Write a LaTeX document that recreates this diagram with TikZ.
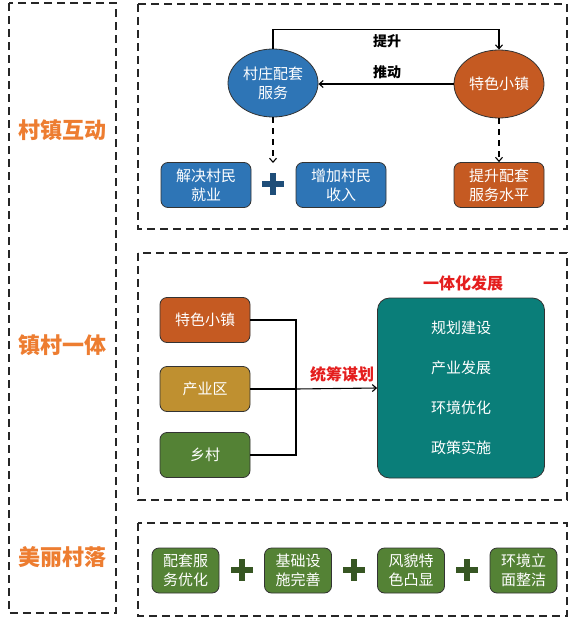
\documentclass[tikz,border=0pt]{standalone}
\usepackage{fontspec}
\setmainfont{Noto Sans CJK SC}
\usetikzlibrary{arrows.meta,shapes.geometric}

\definecolor{blueF}{HTML}{2E75B6}
\definecolor{orangeF}{HTML}{C55A22}
\definecolor{goldF}{HTML}{BF9030}
\definecolor{greenF}{HTML}{548235}
\definecolor{tealF}{HTML}{0A7E79}
\definecolor{plusB}{HTML}{1F4E79}
\definecolor{plusG}{HTML}{375623}
\definecolor{redT}{HTML}{E41E1E}
\definecolor{orangeT}{HTML}{ED7D31}

\begin{document}
\begin{tikzpicture}[x=1pt, y=-1pt,
        frame/.style={draw=black!85, line width=1.4pt, dash pattern=on 8pt off 5pt},
        sidelabel/.style={font=\fontsize{22}{24}\selectfont\bfseries, text=orangeT},
        oval/.style={ellipse, draw=black!80, line width=0.8pt, minimum width=90pt, minimum height=68pt,
            inner sep=0pt, text=white, align=center, font=\fontsize{15}{19}\selectfont},
        box/.style={draw=black!80, line width=0.8pt, rounded corners=7pt, minimum width=90pt, minimum height=45pt,
            inner sep=0pt, text=white, align=center, font=\fontsize{15}{19}\selectfont},
        smallbox/.style={box, minimum width=67pt},
        note/.style={font=\fontsize{14}{16}\selectfont\bfseries},
        rednote/.style={font=\fontsize{16}{18}\selectfont\bfseries, text=redT},
        arr/.style={-{Straight Barb[length=4pt,width=7pt]}, line width=1.1pt}]
    \useasboundingbox (0,0) rectangle (582,624);

    % Frames
    \draw[frame] (9,3) rectangle (116,613);
    \draw[frame] (138,4) rectangle (567,229);
    \draw[frame] (138,253) rectangle (567,500);
    \draw[frame] (138,523) rectangle (567,616);

    % Side labels
    \node[sidelabel] (lab1) at (62,130) {村镇互动};
    \node[sidelabel] (lab2) at (62,345) {镇村一体};
    \node[sidelabel] (lab3) at (62,557) {美丽村落};

    % Village and town
    \node[oval, fill=blueF] (vil) at (273,83) {村庄配套\\服务};
    \node[oval, fill=orangeF] (town) at (499,84) {特色小镇};

    \node[box, fill=blueF] (jobs) at (206,185) {解决村民\\就业};
    \node[box, fill=blueF] (income) at (341,185) {增加村民\\收入};
    \node[box, fill=orangeF] (upgrade) at (499,185) {提升配套\\服务水平};
    \coordinate (vilend) at (273,163);

    \draw[arr] (vil.north) -- ++(0,-19) -| (town.north);
    \draw[arr] (town.west) -- (town.west -| vil.east);
    \draw[arr, dash pattern=on 6pt off 5pt] (vil.south) -- (vilend);
    \draw[arr, dash pattern=on 6pt off 5pt] (town.south) -- (upgrade.north);
    \node[note] (up) at (387,41) {提升};
    \node[note] (push) at (387,72) {推动};

    % Integration
    \node[box, fill=orangeF] (ts) at (205,320) {特色小镇};
    \node[box, fill=goldF] (ind) at (205,389) {产业区};
    \node[box, fill=greenF] (rv) at (205,455) {乡村};
    \node[box, fill=tealF, minimum width=167pt, minimum height=180pt, rounded corners=12pt] (dev) at (461,388) {};
    \coordinate (join) at (296,389);

    \draw[line width=1.1pt] (ts.east) -| (join);
    \draw[line width=1.1pt] (rv.east) -| (join);
    \draw[line width=1.1pt] (ind.east) -- (join);
    \draw[arr] (join) -- (dev.west);

    \node[rednote] (plan) at (342,374) {统筹谋划};
    \node[rednote] (devtitle) at (463,283) {一体化发展};
    \node[text=white, font=\fontsize{15}{18}\selectfont] (d1) at (461,328) {规划建设};
    \node[text=white, font=\fontsize{15}{18}\selectfont] (d2) at (461,368) {产业发展};
    \node[text=white, font=\fontsize{15}{18}\selectfont] (d3) at (461,408) {环境优化};
    \node[text=white, font=\fontsize{15}{18}\selectfont] (d4) at (461,448) {政策实施};

    % Beautiful village
    \node[smallbox, fill=greenF] (b1) at (185.5,570.5) {配套服\\务优化};
    \node[smallbox, fill=greenF] (b2) at (298,570.5) {基础设\\施完善};
    \node[smallbox, fill=greenF] (b3) at (411,570.5) {风貌特\\色凸显};
    \node[smallbox, fill=greenF] (b4) at (523.5,570.5) {环境立\\面整洁};

    % Plus signs
    \foreach \px/\py/\pc in {273/184/plusB, 242/570/plusG, 354/570/plusG, 467/570/plusG} {
        \draw[line width=5.5pt, \pc] (\px-11,\py) -- (\px+11,\py) (\px,\py-11) -- (\px,\py+11);
    }
\end{tikzpicture}
\end{document}
